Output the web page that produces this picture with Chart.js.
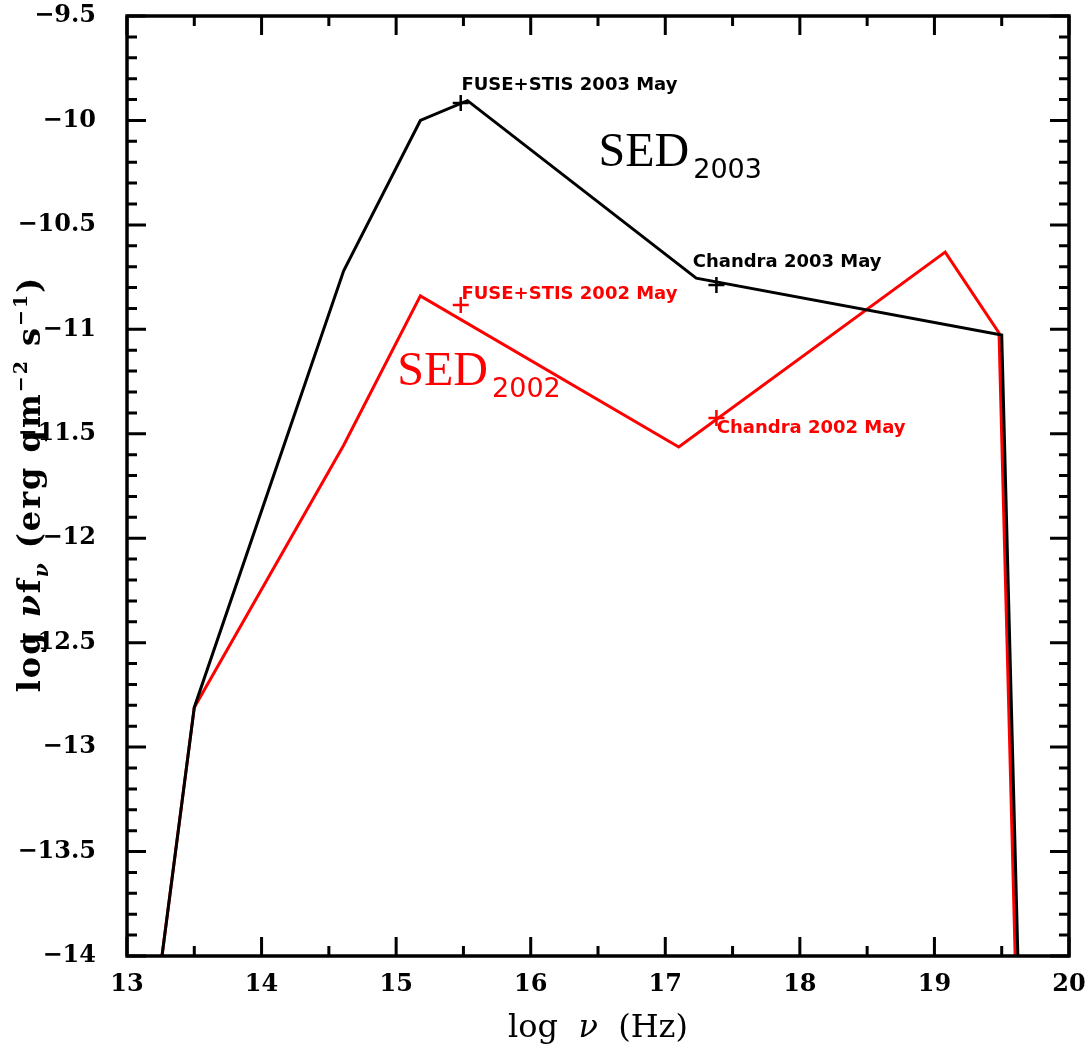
<!DOCTYPE html>
<html>
<head>
<meta charset="utf-8">
<script src="https://cdn.jsdelivr.net/npm/chart.js@4"></script>
<style>
  html, body { margin: 0; padding: 0; background: #fff; }
  #wrap { width: 1092px; height: 1055px; }
</style>
</head>
<body>
<div id="wrap"><canvas id="sed"></canvas></div>
<script>
// ---- data (log nu, log nu f_nu) ----
const sed2003X = [13.26, 13.5, 14.61, 15.18, 15.53, 17.23, 19.5, 19.62];
const sed2003Y = [-14.0, -12.81, -10.72, -10.0, -9.905, -10.755, -11.027, -14.0];

const sed2002X = [13.26, 13.5, 14.61, 15.18, 17.10, 19.08, 19.48, 19.60];
const sed2002Y = [-14.0, -12.81, -11.555, -10.84, -11.563, -10.63, -11.017, -14.0];

// observed points ("+")
const obs2003X = [15.48, 17.38];
const obs2003Y = [-9.917, -10.788];
const obs2002X = [15.48, 17.38];
const obs2002Y = [-10.883, -11.424];

// axis ranges / ticks
const xMin = 13, xMax = 20, xStep = 1, xMinor = 0.5;
const yMin = -14, yMax = -9.5, yStep = 0.5, yMinor = 0.1;

// text labels anchored in data units
const notes = [
  { text: "FUSE+STIS 2003 May", x: 15.485, y: -9.854, color: "#000" },
  { text: "Chandra 2003 May", x: 17.204, y: -10.702, color: "#000" },
  { text: "FUSE+STIS 2002 May", x: 15.485, y: -10.855, color: "#f00" },
  { text: "Chandra 2002 May", x: 17.383, y: -11.496, color: "#f00" }
];
const sedLabels = [
  { main: "SED", sub: "2003", x: 16.504, y: -10.218, color: "#000" },
  { main: "SED", sub: "2002", x: 15.009, y: -11.265, color: "#f00" }
];

function pts(xs, ys) {
  return xs.map((x, i) => ({ x: x, y: ys[i] }));
}

const fmt = v => {
  const s = Number.isInteger(v) ? String(v) : v.toFixed(1);
  return s.replace("-", "\u2212");
};

// draw a sequence of text runs centred on cx
function drawRuns(ctx, runs, cx, y) {
  ctx.textAlign = "left";
  let total = 0;
  runs.forEach(r => { ctx.font = r.f; r.w = ctx.measureText(r.t).width; total += r.w; });
  let x = cx - total / 2;
  runs.forEach(r => {
    ctx.font = r.f;
    ctx.fillText(r.t, x, y + (r.dy || 0));
    x += r.w;
  });
}

// frame, inward ticks on four sides, annotations, axis titles
const decor = {
  id: "decor",
  afterDraw(chart) {
    const ctx = chart.ctx;
    const a = chart.chartArea;
    const xs = chart.scales.x, ys = chart.scales.y;
    ctx.save();
    ctx.strokeStyle = "#000";
    ctx.lineWidth = 3;
    ctx.lineCap = "butt";
    ctx.beginPath();
    // x ticks (bottom + top)
    for (let v = xMin; v <= xMax + 1e-9; v += xMinor) {
      const px = xs.getPixelForValue(v);
      const major = Math.abs(v - Math.round(v / xStep) * xStep) < 1e-6;
      const len = major ? 19 : 10;
      ctx.moveTo(px, a.bottom); ctx.lineTo(px, a.bottom - len);
      ctx.moveTo(px, a.top); ctx.lineTo(px, a.top + len);
    }
    // y ticks (left + right)
    const n = Math.round((yMax - yMin) / yMinor);
    for (let i = 0; i <= n; i++) {
      const v = yMin + i * yMinor;
      const py = ys.getPixelForValue(v);
      const major = i % Math.round(yStep / yMinor) === 0;
      const len = major ? 19 : 10;
      ctx.moveTo(a.left, py); ctx.lineTo(a.left + len, py);
      ctx.moveTo(a.right, py); ctx.lineTo(a.right - len, py);
    }
    ctx.stroke();
    ctx.lineWidth = 3.5;
    ctx.strokeRect(a.left, a.top, a.right - a.left, a.bottom - a.top);

    // annotations
    ctx.textBaseline = "alphabetic";
    ctx.textAlign = "left";
    ctx.font = "bold 18px 'DejaVu Sans'";
    notes.forEach(nt => {
      ctx.fillStyle = nt.color;
      ctx.fillText(nt.text, xs.getPixelForValue(nt.x), ys.getPixelForValue(nt.y));
    });
    sedLabels.forEach(s => {
      const px = xs.getPixelForValue(s.x), py = ys.getPixelForValue(s.y);
      ctx.fillStyle = s.color;
      ctx.font = "48px 'Liberation Serif'";
      ctx.fillText(s.main, px, py);
      const w = ctx.measureText(s.main).width;
      ctx.font = "27px 'DejaVu Sans'";
      ctx.fillText(s.sub, px + w + 4, py + 12);
    });

    // x title
    ctx.fillStyle = "#000";
    const cx = (a.left + a.right) / 2;
    drawRuns(ctx, [
      { t: "log  ", f: "32px 'DejaVu Serif'" },
      { t: "\u03bd", f: "italic 32px 'DejaVu Serif'" },
      { t: "  (Hz)", f: "32px 'DejaVu Serif'" }
    ], cx, 1037);

    // y title (rotated)
    ctx.translate(40, 484);
    ctx.rotate(-Math.PI / 2);
    ctx.letterSpacing = "2px";
    drawRuns(ctx, [
      { t: "log ", f: "bold 32px 'DejaVu Serif'" },
      { t: "\u03bd", f: "italic bold 32px 'DejaVu Serif'" },
      { t: "f", f: "bold 32px 'DejaVu Serif'" },
      { t: "\u03bd", f: "italic bold 20px 'DejaVu Serif'", dy: 8 },
      { t: " (erg qm", f: "bold 32px 'DejaVu Serif'" },
      { t: "\u22122", f: "bold 19px 'DejaVu Serif'", dy: -13 },
      { t: " s", f: "bold 32px 'DejaVu Serif'" },
      { t: "\u22121", f: "bold 19px 'DejaVu Serif'", dy: -13 },
      { t: ")", f: "bold 32px 'DejaVu Serif'" }
    ], 0, 0);
    ctx.restore();
  }
};

const tickFont = { family: "'DejaVu Serif'", size: 24, weight: "bold" };

new Chart(document.getElementById("sed"), {
  type: "scatter",
  data: {
    datasets: [
      { data: pts(obs2003X, obs2003Y), pointStyle: "cross", radius: 8, borderWidth: 2.5,
        borderColor: "#000", showLine: false },
      { data: pts(obs2002X, obs2002Y), pointStyle: "cross", radius: 8, borderWidth: 2.5,
        borderColor: "#f00", showLine: false },
      { data: pts(sed2003X, sed2003Y), showLine: true, borderColor: "#000", borderWidth: 3,
        pointRadius: 0, tension: 0 },
      { data: pts(sed2002X, sed2002Y), showLine: true, borderColor: "#f00", borderWidth: 3,
        pointRadius: 0, tension: 0 }
    ]
  },
  options: {
    responsive: true,
    maintainAspectRatio: false,
    animation: false,
    devicePixelRatio: 1,
    layout: { padding: { top: 16, right: 23, left: 0, bottom: 0 } },
    plugins: { legend: { display: false }, tooltip: { enabled: false } },
    scales: {
      x: {
        type: "linear", min: xMin, max: xMax,
        grid: { display: false }, border: { display: false },
        ticks: { stepSize: xStep, color: "#000", font: tickFont, padding: 6,
                 callback: v => fmt(v), maxRotation: 0 },
        afterFit: s => { s.height = 99; s.paddingLeft = 0; s.paddingRight = 0; }
      },
      y: {
        type: "linear", min: yMin, max: yMax,
        grid: { display: false }, border: { display: false },
        ticks: { stepSize: yStep, color: "#000", font: tickFont, padding: 23,
                 callback: v => fmt(v) },
        afterFit: s => { s.width = 127; s.paddingTop = 0; s.paddingBottom = 0; }
      }
    }
  },
  plugins: [decor]
});
</script>
</body>
</html>
